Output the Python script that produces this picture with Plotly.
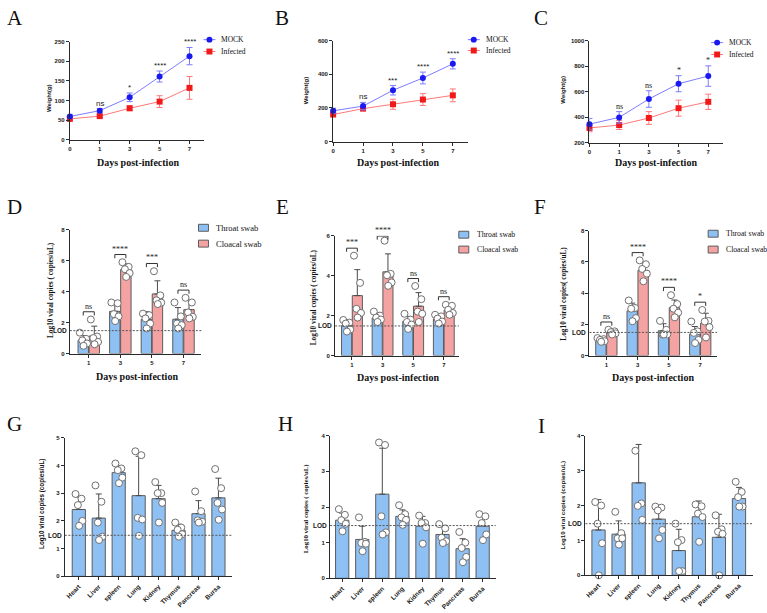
import plotly.graph_objects as go

W, H = 767, 613
SANS = "Liberation Sans"
SERIF = "Liberation Serif"

# ---------------- data ----------------
days = ["0", "1", "3", "5", "7"]

A_mock = [59, 74, 108, 161, 213]
A_mock_sd = [5, 5, 11, 14, 22]
A_inf = [53, 60, 80, 97, 132]
A_inf_sd = [4, 4, 6, 15, 29]
A_sig = ["", "ns", "*", "****", "****"]

B_mock = [183, 211, 305, 378, 462]
B_mock_sd = [15, 22, 28, 35, 30]
B_inf = [161, 196, 222, 250, 275]
B_inf_sd = [10, 10, 30, 35, 38]
B_sig = ["", "ns", "***", "****", "****"]

C_mock = [345, 398, 542, 662, 722]
C_mock_sd = [45, 45, 65, 63, 80]
C_inf = [315, 338, 393, 470, 520]
C_inf_sd = [30, 35, 50, 63, 60]
C_sig = ["", "ns", "ns", "*", "*"]

swab_days = ["1", "3", "5", "7"]

D_throat = [0.86, 2.73, 2.20, 2.22]
D_throat_sd = [0.30, 0.60, 0.50, 0.75]
D_cloacal = [1.13, 5.43, 3.85, 2.84]
D_cloacal_sd = [0.64, 0.36, 0.85, 0.60]
D_throat_pts = [[1.35, 0.95, 0.85, 0.65, 0.50], [3.30, 3.25, 2.55, 2.40, 2.10],
                [2.58, 2.48, 2.27, 1.94, 1.62], [3.30, 2.40, 1.94, 1.84, 1.62]]
D_cloacal_pts = [[2.20, 1.10, 1.00, 0.75, 0.60], [5.90, 5.60, 5.45, 5.20, 4.95],
                 [5.32, 3.76, 3.44, 3.29, 3.20], [3.60, 3.30, 2.66, 2.37, 2.27]]
D_sig = ["ns", "****", "***", "ns"]

E_throat = [1.50, 1.88, 1.71, 1.83]
E_throat_sd = [0.28, 0.25, 0.25, 0.22]
E_cloacal = [3.00, 4.19, 2.47, 2.27]
E_cloacal_sd = [1.30, 0.90, 0.68, 0.30]
E_throat_pts = [[1.78, 1.65, 1.60, 1.30, 1.20], [2.20, 2.00, 1.90, 1.80, 1.68],
                [2.09, 1.80, 1.68, 1.55, 1.33], [2.04, 1.96, 1.85, 1.70, 1.60]]
E_cloacal_pts = [[5.00, 3.64, 2.34, 2.13, 1.90], [5.75, 4.09, 4.02, 3.66, 3.49],
                 [3.48, 2.82, 2.20, 2.09, 1.68], [2.54, 2.49, 2.29, 2.13, 2.04]]
E_sig = ["***", "****", "ns", "ns"]

F_throat = [0.97, 2.86, 1.59, 1.38]
F_throat_sd = [0.12, 0.50, 0.45, 0.48]
F_cloacal = [1.50, 5.46, 3.07, 2.07]
F_cloacal_sd = [0.12, 0.50, 0.49, 0.64]
F_throat_pts = [[1.12, 1.05, 1.00, 0.92, 0.88], [3.53, 3.05, 3.00, 2.40, 2.20],
                [2.22, 1.65, 1.35, 1.35, 1.35], [2.18, 1.55, 1.45, 1.00, 0.80]]
F_cloacal_pts = [[1.65, 1.55, 1.50, 1.42, 1.35], [6.10, 5.85, 5.55, 5.25, 4.76],
                 [3.87, 3.30, 3.00, 2.75, 2.45], [2.92, 2.22, 2.18, 1.82, 1.16]]
F_sig = ["ns", "****", "****", "*"]

organs = ["Heart", "Liver", "spleen", "Lung", "Kidney", "Thymus", "Pancreas", "Bursa"]

G_mean = [2.41, 2.10, 3.74, 2.91, 2.80, 1.66, 2.26, 2.83]
G_sd = [0.45, 0.87, 0.25, 1.42, 0.48, 0.22, 0.47, 0.71]
G_pts = [[2.97, 2.80, 2.57, 2.00, 1.82], [3.28, 2.69, 1.94, 1.43, 1.31],
         [4.07, 3.89, 3.83, 3.56, 3.36], [4.51, 4.37, 2.11, 2.05, 1.46],
         [3.40, 3.00, 3.00, 2.65, 1.94], [1.94, 1.76, 1.68, 1.52, 1.43],
         [3.06, 2.35, 2.02, 1.97, 1.94], [3.87, 3.18, 2.65, 2.41, 2.04]]

H_mean = [1.63, 1.09, 2.36, 1.74, 1.46, 1.23, 0.83, 1.46]
H_sd = [0.20, 0.37, 1.29, 0.18, 0.28, 0.21, 0.28, 0.30]
H_pts = [[1.94, 1.78, 1.63, 1.53, 1.32], [1.71, 1.02, 0.99, 0.97, 0.76],
         [3.81, 3.74, 1.74, 1.29, 1.23], [2.05, 1.80, 1.71, 1.64, 1.50],
         [1.76, 1.55, 1.55, 1.43, 0.97], [1.52, 1.40, 1.14, 1.04, 0.99],
         [1.30, 1.00, 0.85, 0.60, 0.45], [1.80, 1.74, 1.55, 1.23, 1.07]]

I_mean = [1.30, 1.18, 2.65, 1.61, 0.71, 1.68, 1.09, 2.20]
I_sd = [0.87, 0.38, 1.10, 0.40, 0.61, 0.45, 0.66, 0.32]
I_pts = [[2.10, 2.00, 1.48, 0.92, 0.00], [1.82, 1.21, 1.06, 1.06, 0.88],
         [3.57, 2.06, 1.99, 1.59], [1.97, 1.94, 1.86, 1.30, 1.06],
         [1.48, 1.01, 0.95, 0.12, 0.12], [2.03, 1.98, 1.77, 1.67, 0.96],
         [1.72, 1.32, 1.25, 1.19, 0.00], [2.68, 2.39, 2.24, 1.97, 1.97]]

LOD = 1.48

# ---------------- styles ----------------
AXC = "#2a2a2a"
BLUE_M, BLUE_L = "#1a1af0", "#7c7cff"
RED_M, RED_L = "#f01a1a", "#ff7878"
BAR_BLUE, BAR_PINK = "#8ec0f4", "#f5a2a2"
EDGE = "#5c5c5c"
ERR = "#4a4a4a"
JIT = [-0.55, 0.45, -0.15, 0.6, 0.05]

fig = go.Figure()
shapes, annotations = [], []
layout = dict(width=W, height=H, margin=dict(l=0, r=0, t=0, b=0),
              paper_bgcolor="white", plot_bgcolor="white",
              showlegend=False, barmode="overlay")


def names(k):
    s = "" if k == 1 else str(k)
    return "x" + s, "y" + s, "xaxis" + s, "yaxis" + s


def base_axis(fs=6):
    return dict(showline=True, linecolor=AXC, linewidth=1, ticks="outside",
                ticklen=3, tickwidth=1, tickcolor=AXC, showgrid=False,
                zeroline=False,
                tickfont=dict(family=SANS, size=fs, color="#1a1a1a", weight="bold"))


def setup_axes(k, box, xr, yr, ytickvals, xtickvals, xticktext, angle=0, xfs=6):
    x0, x1, y0, y1 = box
    xa, ya, xn, yn = names(k)
    ax = base_axis(xfs)
    ax.update(domain=[x0 / W, x1 / W], range=xr, anchor=ya, tickangle=angle,
              tickmode="array", tickvals=xtickvals, ticktext=xticktext)
    ay = base_axis(6)
    ay.update(domain=[1 - y1 / H, 1 - y0 / H], range=yr, anchor=xa,
              tickmode="array", tickvals=ytickvals)
    layout[xn] = ax
    layout[yn] = ay


def text(xp, yp, t, size, family, angle=0, xanchor="center", weight="normal"):
    annotations.append(dict(x=xp / W, y=1 - yp / H, xref="paper", yref="paper",
                            text=t, showarrow=False, textangle=angle,
                            xanchor=xanchor, yanchor="middle",
                            font=dict(family=family, size=size, color="#111", weight=weight)))


def legend_line(xc, y, lc, mc, symbol, label, fs):
    yy = 1 - y / H
    shapes.append(dict(type="line", xref="paper", yref="paper", x0=(xc - 6) / W, x1=(xc + 6) / W,
                       y0=yy, y1=yy, line=dict(color=lc, width=1)))
    shapes.append(dict(type="circle" if symbol == "circle" else "rect", xref="paper", yref="paper",
                       x0=(xc - 3) / W, x1=(xc + 3) / W, y0=1 - (y + 3) / H, y1=1 - (y - 3) / H,
                       fillcolor=mc, line=dict(width=0)))
    text(xc + 10, y, label, fs, SERIF, xanchor="left")


def legend_box(xc, y, color, label, fs):
    shapes.append(dict(type="rect", xref="paper", yref="paper", x0=(xc - 5) / W, x1=(xc + 5) / W,
                       y0=1 - (y + 3.5) / H, y1=1 - (y - 3.5) / H,
                       fillcolor=color, line=dict(color=EDGE, width=1)))
    text(xc + 11, y, label, fs, SERIF, xanchor="left")


def line_panel(k, box, yr, yticks, mock, msd, inf, isd, sig, sigfont, leg):
    xa, ya, _, _ = names(k)
    setup_axes(k, box, [0, 4.5], yr, yticks, list(range(len(days))), days)
    xs = list(range(len(days)))
    fig.add_trace(go.Scatter(x=xs, y=inf, xaxis=xa, yaxis=ya, mode="lines+markers", name="Infected",
                             line=dict(color=RED_L, width=1),
                             marker=dict(symbol="square", size=6, color=RED_M),
                             error_y=dict(type="data", array=isd, color=RED_L, thickness=1, width=3),
                             cliponaxis=False))
    fig.add_trace(go.Scatter(x=xs, y=mock, xaxis=xa, yaxis=ya, mode="lines+markers", name="MOCK",
                             line=dict(color=BLUE_L, width=1),
                             marker=dict(symbol="circle", size=6, color=BLUE_M),
                             error_y=dict(type="data", array=msd, color=BLUE_L, thickness=1, width=3),
                             cliponaxis=False))
    for i, s in enumerate(sig):
        if s:
            annotations.append(dict(x=xs[i], y=mock[i] + msd[i], xref=xa, yref=ya, text=s,
                                    showarrow=False, yanchor="bottom", yshift=-1,
                                    font=dict(family=sigfont, size=8, color="#222")))
    lx, ly1, ly2 = leg
    legend_line(lx, ly1, BLUE_L, BLUE_M, "circle", "MOCK", 7.5)
    legend_line(lx, ly2, RED_L, RED_M, "square", "Infected", 7.5)


def dots(xa, ya, centers, pts, spread):
    xs, ys = [], []
    for c, group in zip(centers, pts):
        for j, v in enumerate(group):
            xs.append(c + JIT[j] * spread)
            ys.append(v)
    fig.add_trace(go.Scatter(x=xs, y=ys, xaxis=xa, yaxis=ya, mode="markers", cliponaxis=False,
                             marker=dict(size=7, color="white", line=dict(color="#707070", width=1)),
                             showlegend=False))


def lod(xa, ya):
    shapes.append(dict(type="line", xref=xa + " domain", yref=ya, x0=0, x1=1, y0=LOD, y1=LOD,
                       line=dict(color="#555", width=1, dash="2px,1.5px")))
    annotations.append(dict(x=0, y=LOD, xref=xa + " domain", yref=ya, text="LOD", showarrow=False,
                            xanchor="right", yanchor="middle", xshift=-1,
                            font=dict(family=SANS, size=6.5, color="#111", weight="bold")))


def swab_panel(k, box, xr, ymax, yticks, thr, tsd, clo, csd, tpts, cpts, sig, leg, lfs):
    xa, ya, _, _ = names(k)
    n = len(swab_days)
    idx = list(range(n))
    setup_axes(k, box, xr, [0, ymax], yticks, idx, swab_days)
    for vals, sd, col, off in ((thr, tsd, BAR_BLUE, -0.34), (clo, csd, BAR_PINK, 0.01)):
        fig.add_trace(go.Bar(x=idx, y=vals, offset=off, width=0.33, xaxis=xa, yaxis=ya,
                             marker=dict(color=col, line=dict(color=EDGE, width=1)),
                             error_y=dict(type="data", array=sd, arrayminus=[0] * n, symmetric=False,
                                          color=ERR, thickness=1, width=3)))
    lod(xa, ya)
    dots(xa, ya, [i - 0.175 for i in idx], tpts, 0.2)
    dots(xa, ya, [i + 0.175 for i in idx], cpts, 0.2)
    pad = 0.0625 * ymax
    leg_len = 0.03 * ymax
    for i in idx:
        top = max(max(tpts[i]), max(cpts[i]), thr[i] + tsd[i], clo[i] + csd[i])
        h = min(top + pad, ymax * 0.997)
        xl, xr_ = i - 0.175, i + 0.175
        shapes.append(dict(type="path", xref=xa, yref=ya,
                           path=f"M {xl},{h - leg_len} L {xl},{h} L {xr_},{h} L {xr_},{h - leg_len}",
                           line=dict(color="#333", width=1)))
        annotations.append(dict(x=i, y=h, xref=xa, yref=ya, text=sig[i], showarrow=False,
                                yanchor="bottom", yshift=-1,
                                font=dict(family=SERIF, size=8, color="#222")))
    lx, ly1, ly2 = leg
    legend_box(lx, ly1, BAR_BLUE, "Throat swab", lfs)
    legend_box(lx, ly2, BAR_PINK, "Cloacal swab", lfs)


def organ_panel(k, box, xr, ymax, yticks, mean, sd, pts):
    xa, ya, _, _ = names(k)
    n = len(organs)
    idx = list(range(n))
    setup_axes(k, box, xr, [0, ymax], yticks, idx, organs, angle=-45, xfs=6.5)
    fig.add_trace(go.Bar(x=idx, y=mean, width=0.66, xaxis=xa, yaxis=ya,
                         marker=dict(color=BAR_BLUE, line=dict(color=EDGE, width=1)),
                         error_y=dict(type="data", array=sd, arrayminus=[0] * n, symmetric=False,
                                      color=ERR, thickness=1, width=3)))
    lod(xa, ya)
    dots(xa, ya, idx, pts, 0.3)


# ---------------- panels ----------------
line_panel(1, (68, 203, 39, 138), [0, 250], [0, 50, 100, 150, 200, 250],
           A_mock, A_mock_sd, A_inf, A_inf_sd, A_sig, SANS, (208, 37, 49))
line_panel(2, (332, 467, 38, 140), [0, 600], [0, 200, 400, 600],
           B_mock, B_mock_sd, B_inf, B_inf_sd, B_sig, SANS, (473, 37, 48))
line_panel(3, (589, 723, 38, 141), [200, 1000], [200, 400, 600, 800, 1000],
           C_mock, C_mock_sd, C_inf, C_inf_sd, C_sig, SERIF, (717, 40, 52))

swab_panel(4, (68, 200, 229, 354), [-0.6, 3.57], 8, [0, 2, 4, 6, 8],
           D_throat, D_throat_sd, D_cloacal, D_cloacal_sd, D_throat_pts, D_cloacal_pts, D_sig,
           (202, 227, 243), 8.5)
swab_panel(5, (334, 458, 235, 356), [-0.55, 3.49], 6, [0, 2, 4, 6],
           E_throat, E_throat_sd, E_cloacal, E_cloacal_sd, E_throat_pts, E_cloacal_pts, E_sig,
           (463, 234, 249), 7.7)
swab_panel(6, (589, 717, 230, 356), [-0.54, 3.54], 8, [0, 2, 4, 6, 8],
           F_throat, F_throat_sd, F_cloacal, F_cloacal_sd, F_throat_pts, F_cloacal_pts, F_sig,
           (713, 233, 249), 7.7)

organ_panel(7, (63, 231, 439, 579), [-0.7, 7.7], 5, [0, 1, 2, 3, 4, 5], G_mean, G_sd, G_pts)
organ_panel(8, (329, 495, 437, 581), [-0.6, 7.65], 4, [0, 1, 2, 3, 4], H_mean, H_sd, H_pts)
organ_panel(9, (585, 753, 437, 578), [-0.65, 7.7], 4, [0, 1, 2, 3, 4], I_mean, I_sd, I_pts)

# ---------------- titles ----------------
for xp, yp in ((136, 161), (397, 161), (656, 161), (135, 377), (397, 378), (653, 378)):
    text(xp, yp, "Days post-infection", 10, SERIF, weight="bold")

for xp, yp in ((47, 96), (305, 88), (563, 88)):
    text(xp, yp, "Weight(g)", 6, SANS, angle=-90, weight="bold")

text(48, 290, "Log10 viral copies ( copies/uL)", 7.3, SERIF, angle=-90, weight="bold")
text(312, 297, "Log10 viral copies ( copies/uL)", 7.3, SERIF, angle=-90, weight="bold")
text(563, 294, "Log10 viral copies( copies/uL)", 7.3, SERIF, angle=-90, weight="bold")
text(40, 506, "Log10 viral copies (copies/uL)", 6.3, SANS, angle=-90, weight="bold")
text(305, 511, "Log10 viral copies ( copies/uL)", 6.8, SERIF, angle=-90, weight="bold")
text(562, 507, "Log10 viral copies (copies/uL)", 6.2, SANS, angle=-90, weight="bold")

for lab, xp, yp in (("A", 13, 15), ("B", 281, 15), ("C", 540, 15),
                    ("D", 13, 206), ("E", 281, 206), ("F", 539, 206),
                    ("G", 13, 425), ("H", 284, 425), ("I", 541, 427)):
    text(xp, yp, lab, 21, SERIF)

layout["shapes"] = shapes
layout["annotations"] = annotations
fig.update_layout(**layout)
fig.write_html("out.html")
